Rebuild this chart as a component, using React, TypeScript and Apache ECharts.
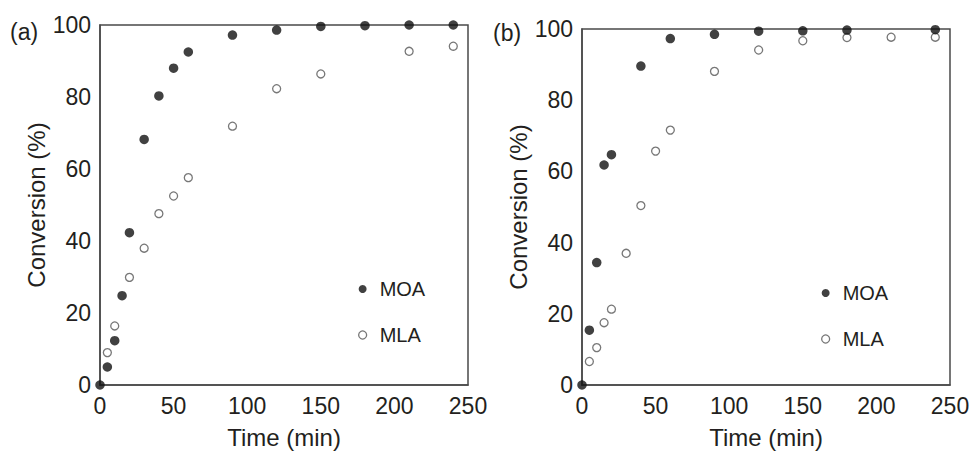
import React, { useEffect, useRef } from "react";
import * as echarts from "echarts";

// Panel (a)
const aMoaTime = [0, 5, 10, 15, 20, 30, 40, 50, 60, 90, 120, 150, 180, 210, 240];
const aMoaConv = [0, 5.0, 12.3, 24.8, 42.3, 68.2, 80.3, 88.0, 92.5, 97.2, 98.6, 99.6, 99.8, 100, 100];
const aMlaTime = [5, 10, 20, 30, 40, 50, 60, 90, 120, 150, 210, 240];
const aMlaConv = [9.0, 16.4, 29.9, 38.0, 47.6, 52.5, 57.6, 71.9, 82.3, 86.4, 92.7, 94.1];

// Panel (b)
const bMoaTime = [0, 5, 10, 15, 20, 40, 60, 90, 120, 150, 180, 240];
const bMoaConv = [0, 15.4, 34.4, 61.8, 64.7, 89.6, 97.3, 98.5, 99.4, 99.5, 99.7, 99.8];
const bMlaTime = [5, 10, 15, 20, 30, 40, 50, 60, 90, 120, 150, 180, 210, 240];
const bMlaConv = [6.6, 10.5, 17.5, 21.3, 37.0, 50.4, 65.7, 71.6, 88.1, 94.1, 96.7, 97.6, 97.7, 97.7];

const panelLabels = ["(a)", "(b)"];
const seriesNames = ["MOA", "MLA"];
const xName = "Time (min)";
const yName = "Conversion (%)";

const FONT = "'Liberation Sans', Arial, Helvetica, sans-serif";
const TXT = "#231f20";

function pairs(xs: number[], ys: number[]) {
  return xs.map((x, i) => [x, ys[i]]);
}

export default function App() {
  const ref = useRef<HTMLDivElement>(null);
  useEffect(() => {
    if (!ref.current) return;
    const chart = echarts.init(ref.current, undefined, { renderer: "svg" });

    const grids = [
      { left: 100, top: 25, width: 368, height: 365 },
      { left: 582, top: 29, width: 368, height: 364 },
    ];

    const mkX = (gi: number) => ({
      type: "value",
      gridIndex: gi,
      min: 0,
      max: 250,
      interval: 50,
      name: xName,
      nameLocation: "middle",
      nameGap: 40,
      nameTextStyle: { fontFamily: FONT, fontSize: 24, color: TXT },
      axisLine: { show: true, lineStyle: { color: "#4a4a4a", width: 1.5 } },
      axisTick: { show: false },
      splitLine: { show: false },
      axisLabel: { fontFamily: FONT, fontSize: 23, color: TXT, margin: 9 },
    });
    const mkY = (gi: number) => ({
      type: "value",
      gridIndex: gi,
      min: 0,
      max: 100,
      interval: 20,
      name: yName,
      nameLocation: "middle",
      nameGap: 42,
      nameTextStyle: { fontFamily: FONT, fontSize: 24, color: TXT },
      axisLine: { show: true, lineStyle: { color: "#4a4a4a", width: 1.5 } },
      axisTick: { show: false },
      splitLine: { show: false },
      axisLabel: { fontFamily: FONT, fontSize: 23, color: TXT, margin: 9 },
    });

    const filledStyle = { color: "#111111" };
    const openStyle = { color: "#ffffff", borderColor: "#555555", borderWidth: 1.3 };

    const series = [
      { name: seriesNames[0], gi: 0, data: pairs(aMoaTime, aMoaConv), filled: true },
      { name: seriesNames[1], gi: 0, data: pairs(aMlaTime, aMlaConv), filled: false },
      { name: seriesNames[0], gi: 1, data: pairs(bMoaTime, bMoaConv), filled: true },
      { name: seriesNames[1], gi: 1, data: pairs(bMlaTime, bMlaConv), filled: false },
    ].map((s) => ({
      type: "scatter",
      name: s.name,
      xAxisIndex: s.gi,
      yAxisIndex: s.gi,
      data: s.data,
      symbol: "circle",
      symbolSize: s.filled ? 9.5 : 8,
      itemStyle: s.filled ? filledStyle : openStyle,
      z: s.filled ? 3 : 2,
    }));

    const mkLegend = (left: number, top: number) => ({
      left,
      top,
      orient: "vertical",
      itemWidth: 8,
      itemHeight: 8,
      itemGap: 26,
      selectedMode: false,
      data: [
        { name: seriesNames[0], icon: "circle", itemStyle: filledStyle },
        { name: seriesNames[1], icon: "circle", itemStyle: openStyle },
      ],
      textStyle: { fontFamily: FONT, fontSize: 20, color: TXT, lineHeight: 20, padding: [0, 0, 0, 8] },
    });

    chart.setOption({
      animation: false,
      backgroundColor: "#ffffff",
      grid: grids.map((g) => ({
        ...g,
        show: true,
        borderColor: "#4a4a4a",
        borderWidth: 1.5,
        backgroundColor: "transparent",
      })),
      xAxis: [mkX(0), mkX(1)],
      yAxis: [mkY(0), mkY(1)],
      legend: [mkLegend(353, 274), mkLegend(816, 278)],
      graphic: [
        {
          type: "text",
          left: 10,
          top: 20,
          style: { text: panelLabels[0], fontFamily: FONT, fontSize: 23, fill: TXT },
        },
        {
          type: "text",
          left: 493,
          top: 21,
          style: { text: panelLabels[1], fontFamily: FONT, fontSize: 23, fill: TXT },
        },
      ],
      series,
    });

    return () => chart.dispose();
  }, []);

  return (
    <div
      ref={ref}
      style={{ position: "absolute", left: 0, top: 0, width: 973, height: 454 }}
    />
  );
}
